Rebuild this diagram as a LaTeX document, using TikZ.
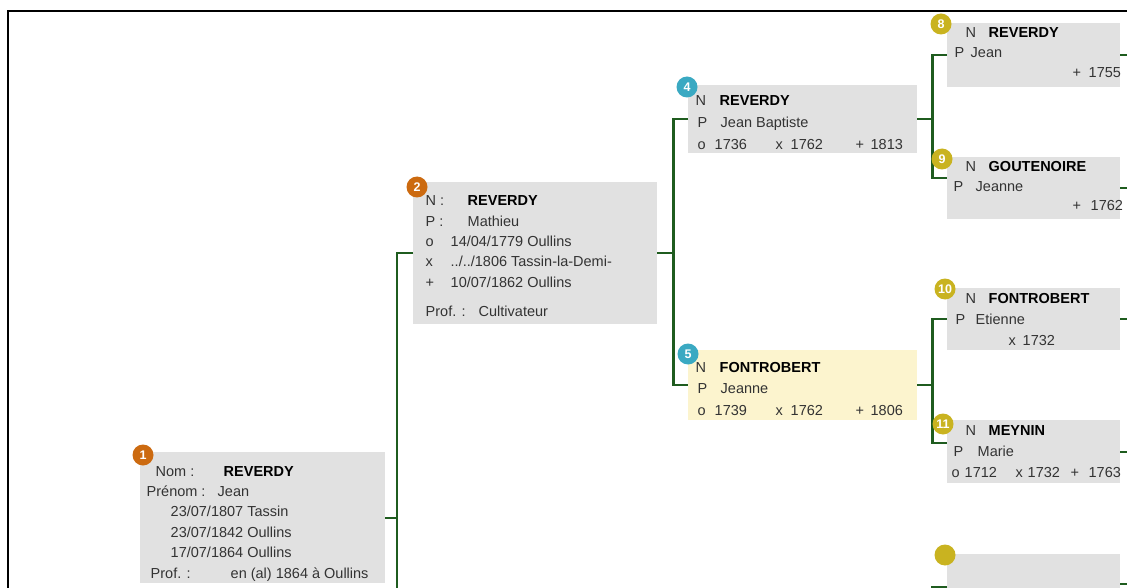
\documentclass[tikz,border=0pt]{standalone}
\usepackage{fontspec}
\setmainfont{Liberation Sans}
\definecolor{BoxGray}{HTML}{E1E1E1}
\definecolor{BoxYellow}{HTML}{FCF4CE}
\definecolor{LinkGreen}{HTML}{1F5C1F}
\definecolor{BadgeOrange}{HTML}{CC6A10}
\definecolor{BadgeTeal}{HTML}{3AA9C2}
\definecolor{BadgeGold}{HTML}{C9B320}
\newcommand{\colx}[2]{\makebox[0pt][l]{\hspace*{#1pt}#2}}
\newcommand{\fiche}[1]{\begin{tabular}[t]{@{}l@{}}#1\end{tabular}}
\newcommand{\patro}[1]{\textbf{\color{black}#1}}

\begin{document}
\begin{tikzpicture}[x=1pt, y=-1pt,
  pbox/.style={rectangle, fill=BoxGray, inner sep=0pt, anchor=north west},
  ptext/.style={inner sep=0pt, anchor=base west, text=black!80, font=\fontsize{14.5}{#1}\selectfont},
  num/.style={circle, fill=#1, text=white, font=\bfseries\fontsize{12.5}{12.5}\selectfont, minimum size=21pt, inner sep=0pt},
  link/.style={draw=LinkGreen, line width=2.2pt},
]
  \clip (0,0) rectangle (1127,588);
  \draw[line width=2pt] (8,600) |- (1140,11);

  % boxes
  \node[pbox, minimum width=245pt, minimum height=131pt] (p1) at (140,452) {};
  \node[pbox, minimum width=244pt, minimum height=142pt] (p2) at (413,182) {};
  \node[pbox, minimum width=229pt, minimum height=68pt] (p4) at (688,85) {};
  \node[pbox, fill=BoxYellow, minimum width=229pt, minimum height=70pt] (p5) at (688,350) {};
  \node[pbox, minimum width=173pt, minimum height=64pt] (p8) at (947,23) {};
  \node[pbox, minimum width=173pt, minimum height=62pt] (p9) at (947,157) {};
  \node[pbox, minimum width=173pt, minimum height=62pt] (p10) at (947,288) {};
  \node[pbox, minimum width=173pt, minimum height=63pt] (p11) at (947,420) {};
  \node[pbox, minimum width=173pt, minimum height=60pt] (p12) at (947,554) {};
  \coordinate (p3) at (397,620);

  % links
  \draw[link] (p1.east) -- ++(12,0) coordinate (f1);
  \draw[link] (p2.west) -| (p3);
  \draw[link] (p2.east) -- ++(16,0) coordinate (f2);
  \draw[link] (p4.west) -| (f2) |- (p5.west);
  \draw[link] (p4.east) -- ++(15,0) coordinate (f4);
  \draw[link] (p8.west) -| (f4) |- ([yshift=10pt]p9.west);
  \draw[link] (p5.east) -- ++(15,0) coordinate (f5);
  \draw[link] (p10.west) -| (f5) |- ([yshift=9pt]p11.west);
  \draw[link] ([yshift=-3pt]p12.west) -- ++(-15,0) -- ++(0,30);
  \foreach \p in {p8,p9,p10,p11,p12}
    \draw[link] (\p.east) -- ++(10,0);

  % texts
  \node[ptext=20.4] (t1) at (146,476) {\fiche{%
    \colx{9}{Nom :}\colx{77}{\patro{REVERDY}}\\
    \colx{0}{Prénom :}\colx{71}{Jean}\\
    \colx{24}{23/07/1807 Tassin}\\
    \colx{24}{23/07/1842 Oullins}\\
    \colx{24}{17/07/1864 Oullins}\\
    \colx{4}{Prof. :}\colx{84}{en (al) 1864 à Oullins}}};
  \node[ptext=20.3] (t2) at (425,206) {\fiche{%
    \colx{0}{N :}\colx{42}{\patro{REVERDY}}\\
    \colx{0}{P :}\colx{42}{Mathieu}\\
    \colx{0}{o}\colx{25}{14/04/1779 Oullins}\\
    \colx{0}{x}\colx{25}{../../1806 Tassin-la-Demi-}\\
    \colx{0}{+}\colx{25}{10/07/1862 Oullins}\\[9.5pt]
    \colx{0}{Prof. :}\colx{53}{Cultivateur}}};
  \node[ptext=21.8] (t4) at (695,106) {\fiche{%
    \colx{0}{N}\colx{24}{\patro{REVERDY}}\\
    \colx{2}{P}\colx{25}{Jean Baptiste}\\
    \colx{2}{o}\colx{19}{1736}\colx{80}{x}\colx{95}{1762}\colx{160}{+}\colx{175}{1813}}};
  \node[ptext=21.8] (t5) at (695,372) {\fiche{%
    \colx{0}{N}\colx{24}{\patro{FONTROBERT}}\\
    \colx{2}{P}\colx{25}{Jeanne}\\
    \colx{2}{o}\colx{19}{1739}\colx{80}{x}\colx{95}{1762}\colx{160}{+}\colx{175}{1806}}};
  \node[ptext=20] (t8) at (954,38) {\fiche{%
    \colx{11}{N}\colx{34}{\patro{REVERDY}}\\
    \colx{0}{P}\colx{16}{Jean}\\
    \colx{118}{+}\colx{134}{1755}}};
  \node[ptext=19.5] (t9) at (954,172) {\fiche{%
    \colx{11}{N}\colx{34}{\patro{GOUTENOIRE}}\\
    \colx{-1}{P}\colx{21}{Jeanne}\\
    \colx{118}{+}\colx{136}{1762}}};
  \node[ptext=21] (t10) at (954,303) {\fiche{%
    \colx{11}{N}\colx{34}{\patro{FONTROBERT}}\\
    \colx{1}{P}\colx{21}{Etienne}\\
    \colx{54}{x}\colx{68}{1732}}};
  \node[ptext=21] (t11) at (954,435) {\fiche{%
    \colx{11}{N}\colx{34}{\patro{MEYNIN}}\\
    \colx{-1}{P}\colx{23}{Marie}\\
    \colx{-3}{o}\colx{10}{1712}\colx{61}{x}\colx{73}{1732}\colx{116}{+}\colx{134}{1763}}};

  % numbers
  \node[num=BadgeOrange] (b1) at (143,455) {1};
  \node[num=BadgeOrange] (b2) at (417,187) {2};
  \node[num=BadgeTeal] (b4) at (687,87) {4};
  \node[num=BadgeTeal] (b5) at (688,354) {5};
  \node[num=BadgeGold] (b8) at (941,24) {8};
  \node[num=BadgeGold] (b9) at (942,159) {9};
  \node[num=BadgeGold] (b10) at (945,289) {10};
  \node[num=BadgeGold] (b11) at (943,424) {11};
  \node[num=BadgeGold] (b12) at (945,555) {};
\end{tikzpicture}
\end{document}
